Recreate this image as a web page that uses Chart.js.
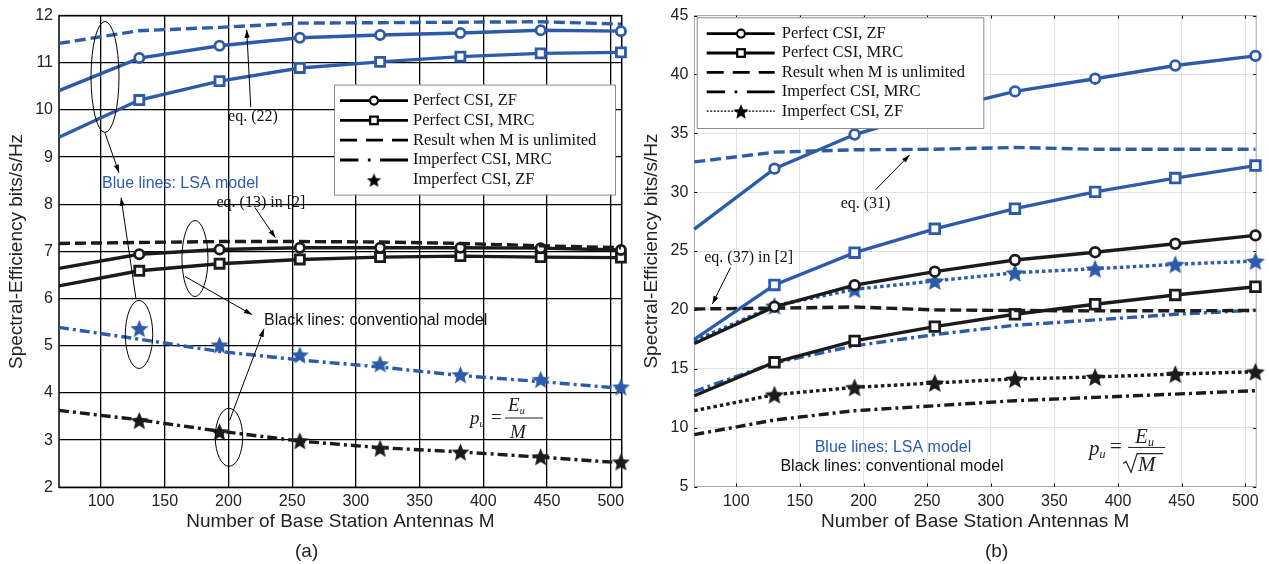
<!DOCTYPE html>
<html lang="en">
<head>
<meta charset="UTF-8">
<title>Spectral efficiency vs. number of base station antennas</title>
<script src="https://cdn.jsdelivr.net/npm/chart.js"></script>
<style>
  body { margin: 0; background: #fff; }
  .panel { position: absolute; top: 0; height: 564px; }
  #pa { left: 0; width: 640px; }
  #pb { left: 640px; width: 629px; }
  .cap { position: absolute; top: 540px; font: 19px "Liberation Sans", Arial, sans-serif; color: #222; }
</style>
</head>
<body>
<div class="panel" id="pa"><canvas id="chartA" width="640" height="564"></canvas></div>
<div class="panel" id="pb"><canvas id="chartB" width="629" height="564"></canvas></div>
<div class="cap" style="left:295px">(a)</div>
<div class="cap" style="left:985px">(b)</div>
<script>
// x positions (number of antennas) of the curves and of the markers
const M_LINE = [67, 130, 193, 256, 319, 382, 445, 508];
const M_MARK = [130, 193, 256, 319, 382, 445, 508];
const xTicks = [100, 150, 200, 250, 300, 350, 400, 450, 500];
const yTicksA = [2, 3, 4, 5, 6, 7, 8, 9, 10, 11, 12];
const yTicksB = [5, 10, 15, 20, 25, 30, 35, 40, 45];

// (a) p_u = E_u / M
const aLsaUnlimited = [11.41, 11.68, 11.75, 11.84, 11.85, 11.86, 11.87, 11.82];
const aLsaZF        = [10.41, 11.10, 11.36, 11.53, 11.59, 11.63, 11.69, 11.67];
const aLsaMRC       = [9.42, 10.21, 10.61, 10.89, 11.02, 11.13, 11.20, 11.22];
const aLsaImpMRC    = [5.39, 5.14, 4.88, 4.70, 4.55, 4.37, 4.24, 4.10];
const aLsaImpZF     = [5.37, 5.02, 4.81, 4.62, 4.39, 4.29, 4.13];
const aConvUnlimited = [7.17, 7.19, 7.21, 7.21, 7.20, 7.17, 7.12, 7.08];
const aConvZF       = [6.64, 6.94, 7.04, 7.08, 7.08, 7.08, 7.07, 7.03];
const aConvMRC      = [6.27, 6.59, 6.74, 6.83, 6.88, 6.90, 6.88, 6.87];
const aConvImpMRC   = [3.63, 3.43, 3.19, 2.98, 2.84, 2.75, 2.64, 2.52];
const aConvImpZF    = [3.42, 3.18, 2.99, 2.83, 2.75, 2.65, 2.54];

// (b) p_u = E_u / sqrt(M)
const bLsaZF        = [26.86, 32.0, 34.9, 36.9, 38.56, 39.64, 40.76, 41.58];
const bLsaUnlimited = [32.57, 33.4, 33.6, 33.65, 33.8, 33.65, 33.65, 33.65];
const bLsaMRC       = [17.5, 22.12, 24.86, 26.89, 28.6, 30.03, 31.2, 32.26];
const bLsaImpZF     = [17.37, 20.35, 21.75, 22.46, 23.16, 23.5, 23.87, 24.15];
const bLsaImpMRC    = [13.07, 15.5, 16.95, 17.9, 18.7, 19.15, 19.63, 19.98];
const bConvZF       = [17.15, 20.27, 22.1, 23.25, 24.24, 24.9, 25.62, 26.33];
const bConvUnlimited = [20.08, 20.15, 20.25, 20.0, 19.95, 19.92, 19.93, 19.95];
const bConvMRC      = [12.71, 15.55, 17.37, 18.58, 19.63, 20.48, 21.27, 21.97];
const bConvImpZF    = [11.44, 12.8, 13.42, 13.8, 14.14, 14.3, 14.55, 14.75];
const bConvImpMRC   = [9.41, 10.65, 11.44, 11.86, 12.29, 12.57, 12.85, 13.14];

const BLUE = '#2d5ba9';
const BLACK = '#1b1b1b';
const SANS = '"Liberation Sans", Arial, sans-serif';
const SERIF = '"Liberation Serif", "Times New Roman", serif';
const DASH = [11, 5];
const DASHDOT = [10, 4, 3, 4];
const DOT = [3.5, 3];

function starImage(color, r) {
  const c = document.createElement('canvas');
  const s = Math.ceil(r * 2 + 2);
  c.width = c.height = s;
  const g = c.getContext('2d');
  g.fillStyle = color;
  g.beginPath();
  for (let i = 0; i < 10; i++) {
    const rad = i % 2 ? r * 0.45 : r;
    const a = -Math.PI / 2 + i * Math.PI / 5;
    g.lineTo(s / 2 + rad * Math.cos(a), s / 2 + 1 + rad * Math.sin(a));
  }
  g.closePath();
  g.fill();
  return c;
}

function pts(xs, ys) { return xs.map((x, i) => ({ x: x, y: ys[i] })); }

// line through M_LINE, markers only on M_MARK (not on the first point)
function curve(ys, color, dash, marker, size, width) {
  return {
    data: pts(M_LINE, ys),
    borderColor: color,
    borderWidth: width || 3.4,
    borderDash: dash || [],
    backgroundColor: '#fff',
    pointStyle: marker || 'circle',
    pointRadius: marker ? ys.map((v, i) => i === 0 ? 0 : size) : 0,
    pointBorderColor: color,
    pointBackgroundColor: typeof marker === 'object' ? color : '#fff',
    pointBorderWidth: 2.8,
    tension: 0,
    clip: false
  };
}

function stars(ys, color, r) {
  return {
    data: pts(M_MARK, ys),
    showLine: false,
    pointStyle: starImage(color, r),
    pointRadius: r,
    clip: false
  };
}

// ----- decoration helpers -----
function px(chart, x, y) {
  return [chart.scales.x.getPixelForValue(x), chart.scales.y.getPixelForValue(y)];
}

function arrow(ctx, x1, y1, x2, y2) {
  ctx.save();
  ctx.strokeStyle = '#000';
  ctx.fillStyle = '#000';
  ctx.lineWidth = 1;
  ctx.beginPath();
  ctx.moveTo(x1, y1);
  ctx.lineTo(x2, y2);
  ctx.stroke();
  const a = Math.atan2(y2 - y1, x2 - x1);
  ctx.beginPath();
  ctx.moveTo(x2, y2);
  ctx.lineTo(x2 - 8 * Math.cos(a) + 2.6 * Math.sin(a), y2 - 8 * Math.sin(a) - 2.6 * Math.cos(a));
  ctx.lineTo(x2 - 8 * Math.cos(a) - 2.6 * Math.sin(a), y2 - 8 * Math.sin(a) + 2.6 * Math.cos(a));
  ctx.closePath();
  ctx.fill();
  ctx.restore();
}

function legendSample(ctx, kind, x1, x2, y) {
  ctx.save();
  ctx.strokeStyle = '#000';
  ctx.lineWidth = 2.8;
  if (kind === 'dash') {
    ctx.setLineDash([17, 9]);
  } else if (kind === 'dashdot') {
    const w = (x2 - x1);
    ctx.setLineDash([w * 0.27, w * 0.14, w * 0.04, w * 0.14, w * 0.41]);
  } else if (kind === 'dot') {
    ctx.lineWidth = 1.2;
    ctx.setLineDash([2, 1.5]);
  }
  ctx.beginPath(); ctx.moveTo(x1, y); ctx.lineTo(x2, y); ctx.stroke();
  ctx.restore();
}

function legendMarker(ctx, m, x, y, starR) {
  ctx.save();
  ctx.strokeStyle = '#000';
  ctx.fillStyle = '#fff';
  ctx.lineWidth = 2.2;
  if (m === 'circle') {
    ctx.beginPath(); ctx.arc(x, y, 4, 0, Math.PI * 2); ctx.fill(); ctx.stroke();
  } else if (m === 'rect') {
    ctx.fillRect(x - 3.8, y - 3.8, 7.6, 7.6); ctx.strokeRect(x - 3.8, y - 3.8, 7.6, 7.6);
  } else if (m === 'star') {
    const img = starImage('#000', starR);
    ctx.drawImage(img, x - img.width / 2, y - img.height / 2);
  }
  ctx.restore();
}

const legendRows = [
  ['solid', 'circle', 'Perfect CSI, ZF'],
  ['solid', 'rect', 'Perfect CSI, MRC'],
  ['dash', null, 'Result when M is unlimited'],
  ['dashdot', null, 'Imperfect CSI, MRC'],
  ['star', 'star', 'Imperfect CSI, ZF']
];

function makeDecor(cfg) {
  return {
    id: 'decor' + cfg.name,
    beforeDatasetsDraw(chart) {
      const { ctx, chartArea: a } = chart;
      ctx.save();
      ctx.strokeStyle = cfg.frameColor;
      ctx.lineWidth = cfg.frameWidth;
      ctx.strokeRect(a.left, a.top, a.right - a.left, a.bottom - a.top);
      if (cfg.innerTicks) {
        ctx.strokeStyle = '#000';
        ctx.lineWidth = 1;
        ctx.beginPath();
        xTicks.forEach(v => {
          const x = Math.round(chart.scales.x.getPixelForValue(v)) + 0.5;
          ctx.moveTo(x, a.top); ctx.lineTo(x, a.top + 3);
          ctx.moveTo(x, a.bottom); ctx.lineTo(x, a.bottom - 3);
        });
        cfg.yTicks.forEach(v => {
          const y = Math.round(chart.scales.y.getPixelForValue(v)) + 0.5;
          ctx.moveTo(a.left, y); ctx.lineTo(a.left + 3, y);
          ctx.moveTo(a.right, y); ctx.lineTo(a.right - 3, y);
        });
        ctx.stroke();
      }
      ctx.restore();
    },
    afterDatasetsDraw(chart) {
      const { ctx, chartArea: a } = chart;
      const L = cfg.legend;
      ctx.save();
      // legend
      const bx = a.left + L.x, by = a.top + L.y;
      ctx.fillStyle = '#fff';
      ctx.fillRect(bx, by, L.w, L.h);
      ctx.strokeStyle = '#8c8c8c';
      ctx.lineWidth = 1;
      ctx.strokeRect(bx + 0.5, by + 0.5, L.w, L.h);
      legendRows.forEach((r, i) => {
        const y = by + L.row0 + i * L.step;
        if (r[0] === 'star') {
          if (L.starLine) legendSample(ctx, 'dot', bx + L.s1, bx + L.s2, y);
        } else {
          legendSample(ctx, r[0], bx + L.s1, bx + L.s2, y);
        }
        if (r[1]) legendMarker(ctx, r[1], bx + L.mx, y, L.starR);
        ctx.fillStyle = '#111';
        ctx.font = '16.5px ' + SERIF;
        ctx.textBaseline = 'middle';
        ctx.textAlign = 'left';
        ctx.fillText(r[2], bx + L.tx, y);
      });
      // ellipses
      ctx.strokeStyle = '#000';
      ctx.lineWidth = 1;
      (cfg.ellipses || []).forEach(e => {
        const [x, y] = px(chart, e[0], e[1]);
        ctx.beginPath();
        ctx.ellipse(x, y, e[2], e[3], 0, 0, Math.PI * 2);
        ctx.stroke();
      });
      // arrows
      cfg.arrows.forEach(r => {
        const [x1, y1] = px(chart, r[0], r[1]);
        const [x2, y2] = px(chart, r[2], r[3]);
        arrow(ctx, x1, y1, x2, y2);
      });
      // texts
      cfg.texts.forEach(t => {
        const [x, y] = px(chart, t.x, t.y);
        ctx.fillStyle = t.color || '#111';
        ctx.font = t.font;
        ctx.textAlign = 'left';
        ctx.textBaseline = 'middle';
        ctx.fillText(t.text, x, y);
      });
      // formula
      const F = cfg.formula;
      const [fx, fy] = px(chart, F.x, F.y);
      ctx.fillStyle = '#222';
      ctx.strokeStyle = '#222';
      ctx.textBaseline = 'alphabetic';
      ctx.textAlign = 'left';
      ctx.font = 'italic ' + F.size + 'px ' + SERIF;
      ctx.fillText('p', fx + F.p[0], fy + F.p[1]);
      ctx.font = 'italic ' + Math.round(F.size * 0.55) + 'px ' + SERIF;
      ctx.fillText('u', fx + F.p[0] + F.size * 0.5, fy + F.p[1] + 3);
      ctx.font = F.size + 'px ' + SERIF;
      ctx.fillText('=', fx + F.eq, fy + F.size * 0.3);
      ctx.lineWidth = 1;
      ctx.beginPath();
      ctx.moveTo(fx, fy + 0.5); ctx.lineTo(fx + F.w, fy + 0.5);
      ctx.stroke();
      ctx.font = 'italic ' + F.size + 'px ' + SERIF;
      ctx.fillText('E', fx + F.e[0], fy + F.e[1]);
      ctx.font = 'italic ' + Math.round(F.size * 0.55) + 'px ' + SERIF;
      ctx.fillText('u', fx + F.e[0] + F.size * 0.62, fy + F.e[1] + 3);
      ctx.font = 'italic ' + F.size + 'px ' + SERIF;
      if (F.sqrt) {
        const sx = fx + F.m[0] - 15, sy = fy + F.m[1];
        ctx.lineWidth = 1.2;
        ctx.beginPath();
        ctx.moveTo(sx, sy - 8);
        ctx.lineTo(sx + 3, sy - 10);
        ctx.lineTo(sx + 8, sy + 1);
        ctx.lineTo(sx + 14, sy - F.size * 0.85);
        ctx.lineTo(fx + F.w - 2, sy - F.size * 0.85);
        ctx.stroke();
      }
      ctx.fillText('M', fx + F.m[0], fy + F.m[1]);
      ctx.restore();
    }
  };
}

function axes(yMin, yMax, yTicks, yWidth, xHeight, yTitlePad, grid) {
  return {
    x: {
      type: 'linear', min: 67, max: 508.6,
      afterBuildTicks: s => { s.ticks = xTicks.map(v => ({ value: v })); },
      afterFit: s => { s.height = xHeight; },
      grid: { color: grid.color, lineWidth: grid.width, drawTicks: false },
      border: { display: false },
      ticks: { padding: 5, color: '#222', font: { family: SANS, size: 16 }, maxRotation: 0, autoSkip: false },
      title: { display: true, text: 'Number of Base Station Antennas M', color: '#222',
               font: { family: SANS, size: 19 }, padding: { top: 0, bottom: 31 } }
    },
    y: {
      type: 'linear', min: yMin, max: yMax,
      afterBuildTicks: s => { s.ticks = yTicks.map(v => ({ value: v })); },
      afterFit: s => { s.width = yWidth; },
      grid: { color: grid.color, lineWidth: grid.width, drawTicks: false },
      border: { display: false },
      ticks: { padding: 6, color: '#222', font: { family: SANS, size: 16 } },
      title: { display: true, text: 'Spectral-Efficiency bits/s/Hz', color: '#222',
               font: { family: SANS, size: 19 }, padding: { top: yTitlePad, bottom: 0 } }
    }
  };
}

const baseOptions = {
  responsive: false,
  animation: false,
  events: [],
  plugins: { legend: { display: false }, tooltip: { enabled: false } }
};

// ---------- chart (a) ----------
new Chart(document.getElementById('chartA'), {
  type: 'line',
  data: {
    datasets: [
      curve(aLsaUnlimited, BLUE, DASH, null, 0),
      curve(aLsaZF, BLUE, [], 'circle', 4.6),
      curve(aLsaMRC, BLUE, [], 'rect', 6.4),
      curve(aConvUnlimited, BLACK, DASH, null, 0),
      curve(aConvZF, BLACK, [], 'circle', 4.6),
      curve(aConvMRC, BLACK, [], 'rect', 6.4),
      curve(aLsaImpMRC, BLUE, DASHDOT, null, 0),
      curve(aConvImpMRC, BLACK, DASHDOT, null, 0),
      stars(aLsaImpZF, BLUE, 9.5),
      stars(aConvImpZF, BLACK, 9.5)
    ]
  },
  options: Object.assign({}, baseOptions, {
    layout: { padding: { left: 0, top: 14.3, right: 18.3, bottom: 0 } },
    scales: axes(2, 12, yTicksA, 59, 76.7, 5.6, { color: '#000', width: 1.3 })
  }),
  plugins: [makeDecor({
    name: 'A', frameColor: '#000', frameWidth: 1.5, innerTicks: false, yTicks: yTicksA,
    legend: { x: 275, y: 69, w: 281, h: 110, row0: 16, step: 19.8, s1: 6, s2: 74, mx: 40, tx: 79, starR: 7.5, starLine: false },
    ellipses: [[103.1, 10.70, 14, 55.5], [129.8, 5.24, 13.7, 34], [173.7, 6.85, 13, 38], [200.4, 3.06, 13.7, 29]],
    arrows: [[103.1, 9.51, 114.1, 8.67], [127.4, 6.0, 115.7, 8.14], [165.9, 6.47, 218.5, 5.66],
             [200.9, 3.42, 227.9, 5.36], [217.5, 10.06, 214.3, 11.70], [220.8, 7.93, 236.8, 7.29]],
    texts: [
      { text: 'Blue lines: LSA model', x: 100.8, y: 8.43, font: '16px ' + SANS, color: BLUE },
      { text: 'Black lines: conventional model', x: 227.9, y: 5.54, font: '16px ' + SANS, color: '#111' },
      { text: 'eq. (22)', x: 199.7, y: 9.85, font: '16px ' + SERIF },
      { text: 'eq. (13) in [2]', x: 190.6, y: 8.03, font: '16px ' + SERIF }
    ],
    formula: { x: 417, y: 3.48, w: 38, size: 19, p: [-35, 7], eq: -14, e: [3, -6], m: [5, 21], sqrt: false }
  })]
});

// ---------- chart (b) ----------
new Chart(document.getElementById('chartB'), {
  type: 'line',
  data: {
    datasets: [
      curve(bLsaZF, BLUE, [], 'circle', 4.8),
      curve(bLsaUnlimited, BLUE, DASH, null, 0),
      curve(bLsaMRC, BLUE, [], 'rect', 6.8),
      curve(bConvZF, BLACK, [], 'circle', 4.8),
      curve(bConvUnlimited, BLACK, DASH, null, 0),
      curve(bConvMRC, BLACK, [], 'rect', 6.8),
      curve(bLsaImpMRC, BLUE, DASHDOT, null, 0),
      curve(bConvImpMRC, BLACK, DASHDOT, null, 0),
      curve(bLsaImpZF, BLUE, DOT, starImage(BLUE, 10), 10),
      curve(bConvImpZF, BLACK, DOT, starImage(BLACK, 10), 10)
    ]
  },
  options: Object.assign({}, baseOptions, {
    layout: { padding: { left: 0, top: 14.3, right: 11.7, bottom: 0 } },
    scales: axes(5, 45, yTicksB, 54.3, 77.5, 0.6, { color: '#e2e2e2', width: 1 })
  }),
  plugins: [makeDecor({
    name: 'B', frameColor: '#a6a6a6', frameWidth: 1, innerTicks: true, yTicks: yTicksB,
    legend: { x: 2.4, y: 1.7, w: 286.6, h: 110.7, row0: 16.3, step: 19.4, s1: 10, s2: 78, mx: 44.3, tx: 85, starR: 8, starLine: true },
    ellipses: [],
    arrows: [[209.3, 30.19, 236.2, 33.16], [95.4, 23.58, 81.2, 20.51]],
    texts: [
      { text: 'eq. (31)', x: 182.0, y: 29.01, font: '16px ' + SERIF },
      { text: 'eq. (37) in [2]', x: 74.8, y: 24.43, font: '16px ' + SERIF },
      { text: 'Blue lines: LSA model', x: 161.6, y: 8.31, font: '16px ' + SANS, color: BLUE },
      { text: 'Black lines: conventional model', x: 134.7, y: 6.66, font: '16px ' + SANS, color: '#111' }
    ],
    formula: { x: 407.9, y: 8.36, w: 37, size: 21, p: [-39, 8], eq: -18, e: [7, -3.5], m: [10, 24.5], sqrt: true }
  })]
});
</script>
</body>
</html>
